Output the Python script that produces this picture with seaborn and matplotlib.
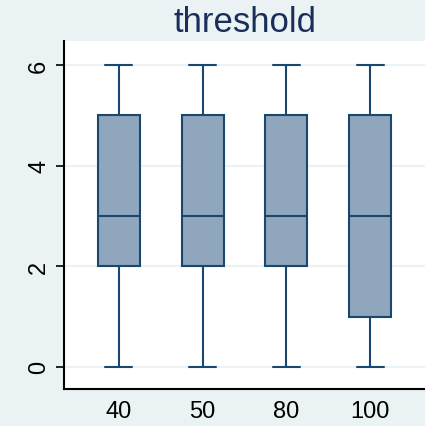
import pandas as pd
import matplotlib
matplotlib.use("Agg")
import matplotlib.pyplot as plt
import seaborn as sns

# values (min, q1, median, q3, max for each group)

thresholds = ["40", "50", "80", "100"]
values_40 = [0, 2, 3, 5, 6]
values_50 = [0, 2, 3, 5, 6]
values_80 = [0, 2, 3, 5, 6]
values_100 = [0, 1, 3, 5, 6]
y_ticks = [0, 2, 4, 6]

data = pd.DataFrame({
    "threshold": [t for t, v in zip(thresholds, [values_40, values_50, values_80, values_100]) for _ in v],
    "value": values_40 + values_50 + values_80 + values_100,
})

sns.set_style("white")
plt.rcParams["font.family"] = ["Liberation Sans", "DejaVu Sans"]

fig = plt.figure(figsize=(4.25, 4.27), dpi=100, facecolor="#EAF2F3")
ax = fig.add_axes([0.1506, 0.0867, 0.8494, 0.8149])
ax.set_facecolor("white")

for t in y_ticks:
    ax.axhline(t, color="#EAF2F3", lw=1.5, zorder=0)

sns.boxplot(data=data, x="threshold", y="value", order=thresholds, ax=ax,
            color="#8FA6BC", saturation=1, linecolor="#1A476F", linewidth=1.5,
            width=0.5, whis=3, capwidths=0.32)

ax.set_xlim(-0.65, 3.65)
ax.set_ylim(-0.44, 6.48)
ax.set_yticks(y_ticks)
ax.set_xlabel("")
ax.set_ylabel("")
ax.set_title("threshold", fontsize=25, color="#1A2E5A", pad=7)

ax.tick_params(axis="y", labelsize=17, labelrotation=90, length=6, width=1.2,
               direction="out", left=True, pad=4, labelcolor="black", color="black")
ax.tick_params(axis="x", labelsize=17, length=0, pad=8, labelcolor="black")
for lbl in ax.get_yticklabels():
    lbl.set_va("center")

for side in ["top", "right"]:
    ax.spines[side].set_visible(False)
for side in ["left", "bottom"]:
    ax.spines[side].set_color("black")
    ax.spines[side].set_linewidth(1.5)

fig.savefig("out.png", dpi=100, facecolor=fig.get_facecolor())
